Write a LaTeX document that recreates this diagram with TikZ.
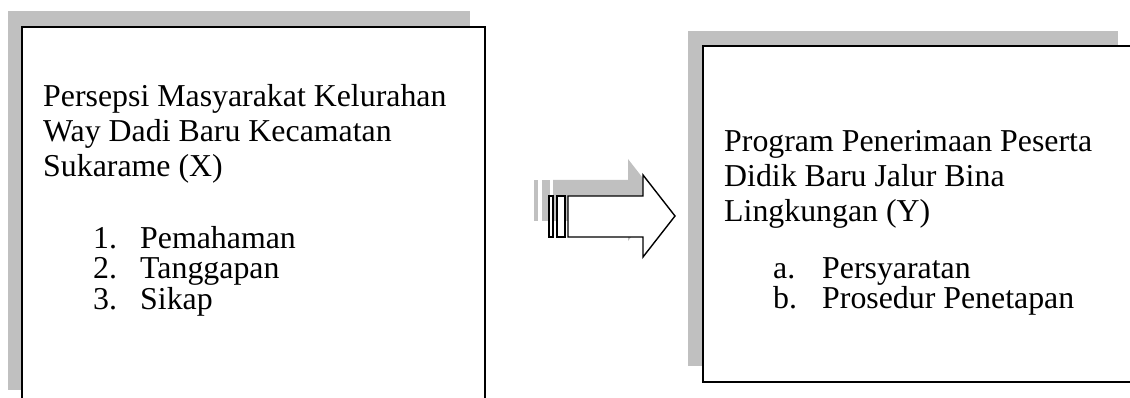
\documentclass[tikz,border=0pt]{standalone}
\usepackage{fontspec}
\setmainfont{Liberation Serif}
\begin{document}
\begin{tikzpicture}[x=1pt,y=-1pt,
  boxframe/.style={fill=white,draw=black,line width=1.8pt},
  arrowline/.style={fill=white,draw=black,line width=1.4pt,line join=miter},
  txt/.style={anchor=base west,inner sep=0pt,font=\fontsize{31.85}{35}\selectfont}]
\definecolor{shadowgray}{RGB}{192,192,192}
\clip (0,0) rectangle (1130,398);
% left box
\coordinate (ls1) at (8,11);  \coordinate (ls2) at (470,390);
\coordinate (lb1) at (22,27); \coordinate (lb2) at (485,410);
\fill[shadowgray] (ls1) rectangle (ls2);
\draw[boxframe] (lb1) rectangle (lb2);
% right box
\coordinate (rs1) at (688,31); \coordinate (rs2) at (1118,366);
\coordinate (rb1) at (703,46); \coordinate (rb2) at (1140,382);
\fill[shadowgray] (rs1) rectangle (rs2);
\draw[boxframe] (rb1) rectangle (rb2);
% block arrow shadow
\begin{scope}[shift={(-15,-16)}]
  \fill[shadowgray] (568,196) -- (643,196) -- (643,175) -- (675,216) -- (643,257) -- (643,237) -- (568,237) -- cycle;
  \fill[shadowgray] (549,196) rectangle (553,237);
  \fill[shadowgray] (557,196) rectangle (565,237);
\end{scope}
% block arrow
\draw[arrowline] (568,196) -- (643,196) -- (643,175) -- (675,216) -- (643,257) -- (643,237) -- (568,237) -- cycle;
\draw[arrowline] (549,196) rectangle (553,237);
\draw[arrowline] (557,196) rectangle (565,237);
% left text
\node[txt] (x1) at (43,107) {Persepsi Masyarakat Kelurahan};
\node[txt] (x2) at (43,142) {Way Dadi Baru Kecamatan};
\node[txt] (x3) at (43,177) {Sukarame (X)};
\node[txt] (n1) at (93,249) {1.};
\node[txt] (t1) at (140,249) {Pemahaman};
\node[txt] (n2) at (93,279) {2.};
\node[txt] (t2) at (140,279) {Tanggapan};
\node[txt] (n3) at (93,309) {3.};
\node[txt] (t3) at (140,309) {Sikap};
% right text
\node[txt] (y1) at (724,152) {Program Penerimaan Peserta};
\node[txt] (y2) at (724,187) {Didik Baru Jalur Bina};
\node[txt] (y3) at (724,222) {Lingkungan (Y)};
\node[txt] (a1) at (773,279) {a.};
\node[txt] (p1) at (822,279) {Persyaratan};
\node[txt] (a2) at (773,308) {b.};
\node[txt] (p2) at (822,308) {Prosedur Penetapan};
\end{tikzpicture}
\end{document}
